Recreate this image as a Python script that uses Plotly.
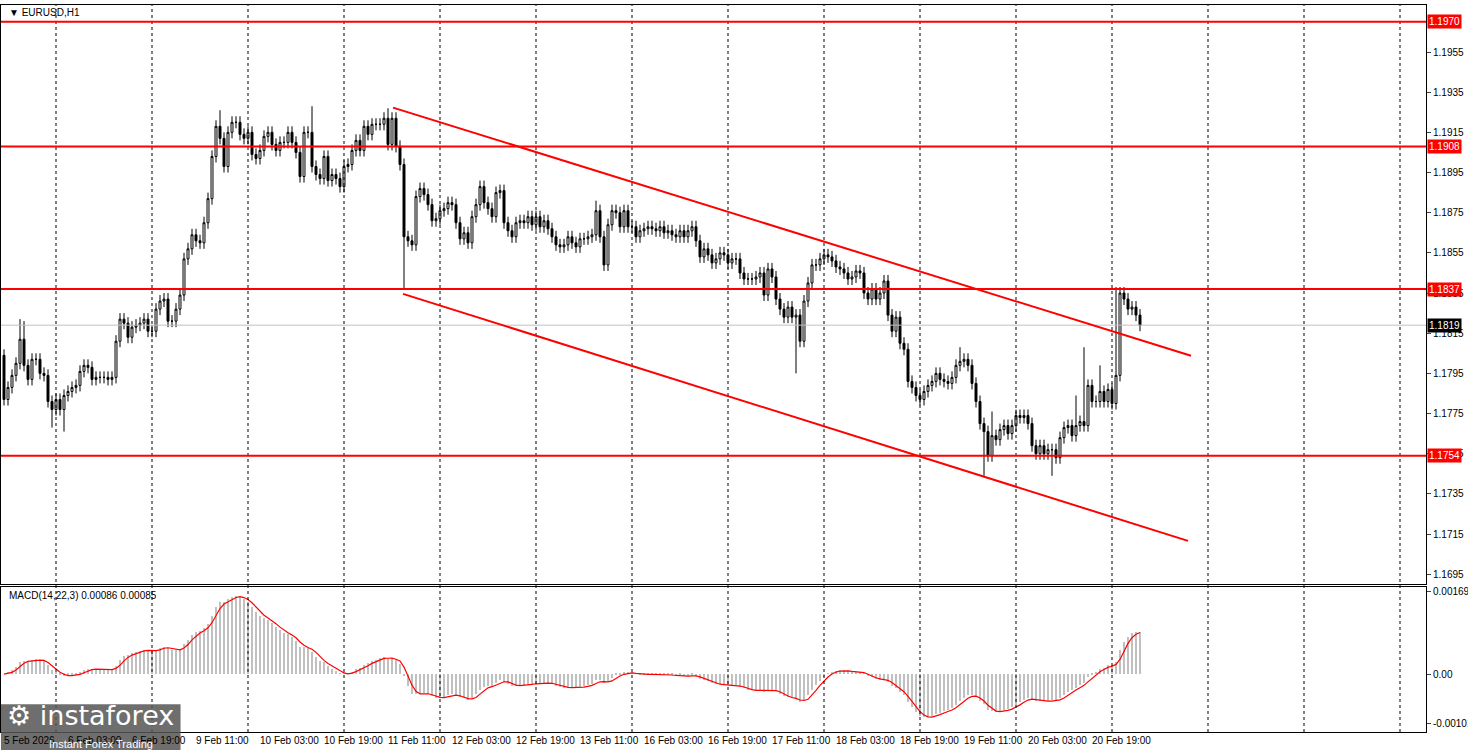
import pandas as pd
import plotly.graph_objects as go
from plotly.subplots import make_subplots

# closes in pips above 1.1700, hourly bars from 5 Feb 11:00
closes = [
    82, 88, 94, 100, 112, 99, 92, 102, 102, 95,
    94, 81, 77, 82, 77, 84, 86, 88, 89, 96,
    99, 98, 92, 93, 93, 93, 92, 93, 111, 122,
    120, 113, 118, 119, 120, 122, 116, 116, 127, 131,
    132, 121, 121, 127, 134, 152, 157, 164, 161, 160,
    170, 182, 203, 218, 212, 198, 215, 220, 220, 214,
    212, 215, 204, 202, 206, 213, 215, 209, 206, 210,
    210, 215, 210, 205, 193, 215, 215, 198, 194, 192,
    203, 191, 194, 192, 188, 198, 199, 206, 211, 206,
    218, 214, 219, 219, 219, 222, 209,
    222, 208, 199, 163, 161, 159, 183, 187, 184, 179,
    171, 172, 176, 177, 180, 179, 170, 162, 165, 160,
    173, 179, 188, 180, 177, 173, 185, 186, 170, 166,
    163, 170, 171, 170, 173, 169, 173, 168, 171, 167,
    163, 159, 158, 159, 163, 160, 158, 162, 162, 163,
    164, 176, 163, 149, 169, 176, 175, 168, 176, 168,
    168, 163, 166, 167, 168, 167, 166, 168, 165, 166,
    164, 163, 166, 163, 166, 168, 161, 153, 157, 154,
    150, 152, 155, 154, 150, 152, 152, 145, 142, 142,
    142, 143, 145, 134, 147, 143, 132, 127, 123,
    128, 123, 124, 111, 131, 140, 149, 149, 152, 154,
    153, 151, 148, 147, 145, 142, 143, 146, 145, 135,
    132, 137, 132, 135, 141, 124, 116, 123, 110, 107,
    91, 88, 84, 82, 86, 89, 91, 95, 92, 91,
    90, 93, 99, 101, 102, 99, 90, 81, 70, 66,
    54, 64, 62, 67, 69, 65, 69, 74, 73, 74,
    70, 59, 55, 59, 55, 57, 57, 53, 63, 68,
    69, 64, 69, 71, 69, 89, 81, 81, 86, 81,
    87, 80, 94, 135, 132, 127, 128, 124, 119,
]
first_open = 104
high_marks = {4: 122, 5: 121, 54: 226, 77: 228, 96: 227, 148: 181, 198: 106,
              239: 108, 247: 76, 268: 84, 270: 108, 274: 99, 278: 138}
low_marks = {12: 68, 15: 66, 100: 137, 198: 95, 245: 44, 262: 44}

tick_labels = ["5 Feb 2026", "6 Feb 03:00", "6 Feb 19:00", "9 Feb 11:00", "10 Feb 03:00",
               "10 Feb 19:00", "11 Feb 11:00", "12 Feb 03:00", "12 Feb 19:00", "13 Feb 11:00",
               "16 Feb 03:00", "16 Feb 19:00", "17 Feb 11:00", "18 Feb 03:00", "18 Feb 19:00",
               "19 Feb 11:00", "20 Feb 03:00", "20 Feb 19:00"]
levels = [1.1970, 1.1908, 1.1837, 1.1754]
last_price = 1.1819
upper_channel = ([97.25, 296.75], [1.19273, 1.18038])
lower_channel = ([99.75, 296.0], [1.18346, 1.17116])

n = len(closes)
c = [1.17 + v / 10000 for v in closes]
o = [1.17 + first_open / 10000] + c[:-1]
h = [max(o[i], c[i]) + 0.0003 for i in range(n)]
l = [min(o[i], c[i]) - 0.0003 for i in range(n)]
for k, v in high_marks.items():
    h[k] = max(h[k], 1.17 + v / 10000)
for k, v in low_marks.items():
    l[k] = min(l[k], 1.17 + v / 10000)
x = list(range(n))

s = pd.Series(c)
macd = s.ewm(span=14, adjust=False).mean() - s.ewm(span=22, adjust=False).mean()
signal = macd.rolling(3, min_periods=1).mean()

fig = make_subplots(rows=2, cols=1, shared_xaxes=True, vertical_spacing=0.004,
                    row_heights=[0.8, 0.2])
fig.add_trace(go.Candlestick(x=x, open=o, high=h, low=l, close=c,
                             increasing=dict(fillcolor="white", line=dict(color="black", width=1)),
                             decreasing=dict(fillcolor="black", line=dict(color="black", width=1)),
                             whiskerwidth=0, showlegend=False), row=1, col=1)
fig.add_trace(go.Bar(x=x, y=macd, marker_color="#c0c0c0", marker_line_width=0, width=0.55,
                     showlegend=False), row=2, col=1)
fig.add_trace(go.Scatter(x=x, y=signal, mode="lines", line=dict(color="red", width=1.2),
                         showlegend=False), row=2, col=1)

xr = [-0.75, -0.75 + 1425 / 4]
font = dict(family="Liberation Sans", size=10, color="black")
wfont = dict(family="Liberation Sans", size=10, color="white")
fig.update_xaxes(range=xr, showgrid=False, showticklabels=False, rangeslider_visible=False,
                 showline=True, linecolor="black", mirror=True, zeroline=False, automargin=False)
fig.update_yaxes(side="right", showgrid=False, showline=True, linecolor="black", mirror=True,
                 ticks="outside", ticklen=4, tickfont=font, zeroline=False, automargin=False)
fig.update_yaxes(range=[1.16900, 1.19784], tickvals=[1.1695 + 0.002 * k for k in range(14)] + [1.1955],
                 tickformat=".4f", row=1, col=1)
fig.update_yaxes(range=[-0.00118, 0.00177], tickvals=[0.00169, 0, -0.00101],
                 ticktext=["0.00169", "0.00", "-0.00101"], row=2, col=1)

shapes = []
for b in range(13, 356, 24):
    shapes.append(dict(type="line", xref="x", yref="paper", x0=b, x1=b, y0=0, y1=1,
                       line=dict(color="black", width=1, dash="3px,3px")))
shapes.append(dict(type="line", xref="paper", yref="y", x0=0, x1=1, y0=last_price, y1=last_price,
                   line=dict(color="#c0c0c0", width=1)))
for lv in levels:
    shapes.append(dict(type="line", xref="paper", yref="y", x0=0, x1=1, y0=lv, y1=lv,
                       line=dict(color="red", width=2)))
for xs, ys in (upper_channel, lower_channel):
    shapes.append(dict(type="line", xref="x", yref="y", x0=xs[0], x1=xs[1], y0=ys[0], y1=ys[1],
                       line=dict(color="red", width=2)))
shapes.append(dict(type="rect", xref="paper", yref="paper", x0=0, x1=0.126, y0=-0.026, y1=0.038,
                   fillcolor="rgba(85,85,85,0.85)", line_width=0, layer="above"))

ann = []
for lv in levels:
    ann.append(dict(x=1, xref="paper", y=lv, yref="y", xanchor="left", xshift=1, text="%.4f" % lv,
                    showarrow=False, bgcolor="red", font=wfont, borderpad=1))
ann.append(dict(x=1, xref="paper", y=last_price, yref="y", xanchor="left", xshift=1,
                text="%.4f" % last_price, showarrow=False, bgcolor="black", font=wfont, borderpad=1))
for i, t in enumerate(tick_labels):
    ann.append(dict(x=16 * i - 0.5, xref="x", y=0, yref="paper", yshift=-1, xanchor="left", yanchor="top",
                    text=t, showarrow=False, font=font))
ann.append(dict(x=0.004, xref="paper", y=1, yref="paper", xanchor="left", yanchor="top",
                text="▼ EURUSD,H1", showarrow=False, font=font))
ann.append(dict(x=0.004, xref="paper", y=0.198, yref="paper", xanchor="left", yanchor="top",
                text="MACD(14,22,3) 0.00086 0.00085", showarrow=False, font=font))
ann.append(dict(x=0.003, xref="paper", y=0.047, yref="paper", xanchor="left", yanchor="top",
                text="⚙ instaforex", showarrow=False,
                font=dict(family="DejaVu Sans", size=27, color="white")))
ann.append(dict(x=0.032, xref="paper", y=-0.006, yref="paper", xanchor="left", yanchor="top",
                text="Instant Forex Trading", showarrow=False,
                font=dict(family="Liberation Sans", size=11, color="white")))

fig.update_layout(width=1468, height=750, margin=dict(l=1, r=42, t=5, b=18),
                  paper_bgcolor="white", plot_bgcolor="white", shapes=shapes, annotations=ann,
                  bargap=0, showlegend=False)
fig.write_html("out.html", config={"displayModeBar": False},
               post_script="document.body.style.margin='0';")
